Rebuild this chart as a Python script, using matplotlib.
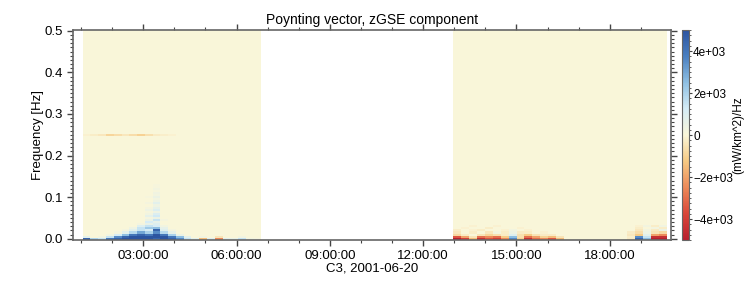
import numpy as np
import matplotlib
matplotlib.use("Agg")
import matplotlib.pyplot as plt
from matplotlib.colors import LinearSegmentedColormap, Normalize
from matplotlib.ticker import MultipleLocator, FuncFormatter

plt.rcParams["font.family"] = ["Liberation Sans", "DejaVu Sans"]

# time segments with data (hours of 2001-06-20)
seg1_start, seg1_end, seg1_nbins = 1.05, 6.80, 23
seg2_start, seg2_end, seg2_nbins = 12.97, 19.83, 27
freq_step = 0.005
n_freq = 101

# Poynting flux (mW/km^2)/Hz, segment 1, lowest rows (0, 0.005, 0.01, 0.015, 0.02 Hz)
seg1_row0 = [4500, 2000, 1500, 4000, 4500, 5000, 5000, 5000, 5000, 4500, 5000, 4500,
             3500, 1500, 800, -1500, 1000, -2500, 800, 600, 1500, 300, 200]
seg1_row1 = [800, 0, 300, 1500, 3500, 4500, 5000, 5000, 5000, 5000, 5000, 4000,
             2500, 800, 0, 300, 0, -500, 0, 0, 300, 0, 0]
seg1_row2 = [0, 0, 0, 300, 1200, 2500, 4000, 4500, 4000, 5000, 4000, 2000,
             500, 0, 0, 0, 0, 0, 0, 0, 0, 0, 0]
seg1_row3 = [0, 0, 0, 0, 200, 800, 1800, 3000, 2000, 3500, 1800, 600,
             0, 0, 0, 0, 0, 0, 0, 0, 0, 0, 0]
seg1_row4 = [0, 0, 0, 0, 0, 200, 800, 1500, 1200, 4500, 900, 200,
             0, 0, 0, 0, 0, 0, 0, 0, 0, 0, 0]
# burst from 0.025 Hz upward, bins 02:33 .. 03:48
burst_rows = [
    [400, 1500, 2200, 2500, 700],
    [0, 900, 1500, 1200, 300],
    [0, 200, 600, 1000, 0],
    [0, 0, 1200, 700, 0],
    [0, 0, 500, 1500, 200],
    [0, 0, 200, 500, 0],
    [0, 0, 700, 1300, 0],
    [0, 0, 300, 1000, 0],
    [0, 0, 150, 400, 0],
    [0, 0, 400, 1000, 0],
    [0, 0, 200, 700, 0],
    [0, 0, 0, 400, 0],
    [0, 0, 200, 800, 0],
    [0, 0, 0, 400, 0],
    [0, 0, 0, 250, 0],
    [0, 0, 150, 500, 0],
    [0, 0, 0, 250, 0],
    [0, 0, 0, 350, 0],
    [0, 0, 0, 150, 0],
    [0, 0, 0, 250, 0],
    [0, 0, 0, 120, 0],
    [0, 0, 0, 150, 0],
]
# faint line at 0.25 Hz, segment 1
seg1_line25 = [-150, -250, -400, -900, -700, -400, -700, -1000, -600, -300, -200, -150,
               0, 0, 0, 0, 0, 0, 0, 0, 0, 0, 0]

# segment 2, rows 0 .. 0.03 Hz
seg2_row0 = [-5000, -4000, -1500, -4500, -3500, -4000, -2500, 3500, -1000, -4500, -3000, -2500,
             -3500, -1500, 0, 0, 0, 0, 0, 0, 0, 0, -300, 4500, 2500, -5000, -5000]
seg2_row1 = [-3500, -2000, -500, -3000, -2500, -3000, -1200, 2500, -600, -3000, -2000, -1000,
             -1500, -500, 0, 0, 0, 0, 0, 0, 0, 0, -200, 3500, 1500, -4500, -4500]
seg2_row2 = [-800, -300, 0, -500, -900, -600, -300, 900, -600, -1200, -500, -300,
             -300, 0, 0, 0, 0, 0, 0, 0, 0, 0, -400, -1200, 800, -2000, -2500]
seg2_row3 = [-400, 0, -250, 0, -400, 250, -250, 400, -300, -250, 0, -150,
             0, 0, 0, 0, 0, 0, 0, 0, 0, 0, -300, -700, 400, -500, -800]
seg2_row4 = [-250, 0, -150, -250, 0, 0, -150, 250, 0, -150, 0, 0,
             0, 0, 0, 0, 0, 0, 0, 0, 0, 0, 0, -400, 250, -350, 500]
seg2_row5 = [0, -150, 0, 0, -250, 0, 0, 0, -150, 0, 0, 0,
             0, 0, 0, 0, 0, 0, 0, 0, 0, 0, 0, -250, 0, 250, -250]
seg2_row6 = [0, 0, -120, 0, 0, -150, 0, 0, 0, 0, 0, 0,
             0, 0, 0, 0, 0, 0, 0, 0, 0, 0, 0, -150, 250, -250, 300]

# colormap
cmap_colors = ["#b8202f", "#d9473a", "#ec8a5a", "#f6c983", "#faf6d9",
               "#d5ecf6", "#8fc0e3", "#4a7fc0", "#2c54a0"]
cmap = LinearSegmentedColormap.from_list("poynting", cmap_colors)
norm = Normalize(vmin=-5000, vmax=5000)

freq_edges = np.arange(n_freq + 1) * freq_step - freq_step / 2

# build grids
Z1 = np.zeros((n_freq, seg1_nbins))
for i, row in enumerate([seg1_row0, seg1_row1, seg1_row2, seg1_row3, seg1_row4]):
    Z1[i] = row
Z1[5:5 + len(burst_rows), 6:11] = burst_rows
Z1[50] = seg1_line25

Z2 = np.zeros((n_freq, seg2_nbins))
for i, row in enumerate([seg2_row0, seg2_row1, seg2_row2, seg2_row3,
                         seg2_row4, seg2_row5, seg2_row6]):
    Z2[i] = row

t1 = np.linspace(seg1_start, seg1_end, seg1_nbins + 1)
t2 = np.linspace(seg2_start, seg2_end, seg2_nbins + 1)

fig = plt.figure(figsize=(7.5, 3), dpi=100)
ax = fig.add_axes([73 / 750, 60 / 300, 598 / 750, 210 / 300])
cax = fig.add_axes([682 / 750, 60 / 300, 7 / 750, 210 / 300])

mesh = ax.pcolormesh(t1, freq_edges, Z1, cmap=cmap, norm=norm, shading="flat")
ax.pcolormesh(t2, freq_edges, Z2, cmap=cmap, norm=norm, shading="flat")

ax.set_xlim(0.74, 19.97)
ax.set_ylim(-0.003, 0.502)

ax.xaxis.set_major_locator(MultipleLocator(3))
ax.xaxis.set_minor_locator(MultipleLocator(1))
ax.xaxis.set_major_formatter(FuncFormatter(lambda h, p: f"{int(round(h)):02d}:00:00"))
ax.yaxis.set_major_locator(MultipleLocator(0.1))
ax.yaxis.set_minor_locator(MultipleLocator(0.01))
ax.yaxis.set_major_formatter(FuncFormatter(lambda v, p: f"{abs(v):.1f}"))

ax.tick_params(which="both", direction="out", top=True, right=True,
               labelsize=9.5, color="#444444")
ax.tick_params(which="major", length=4, width=1)
ax.tick_params(which="minor", length=2.5, width=0.8)
for s in ax.spines.values():
    s.set_color("#666666")
    s.set_linewidth(1.2)

ax.set_title("Poynting vector, zGSE component", fontsize=10, pad=4)
ax.set_xlabel("C3, 2001-06-20", fontsize=9.5, labelpad=0)
ax.set_ylabel("Frequency [Hz]", fontsize=9.5, labelpad=0)

cb = fig.colorbar(mesh, cax=cax)
cb.set_ticks([-4000, -2000, 0, 2000, 4000])
cb.set_ticklabels(["\u22124e+03", "\u22122e+03", "0", "2e+03", "4e+03"])
cb.ax.yaxis.set_minor_locator(MultipleLocator(250))
cb.ax.tick_params(which="both", labelsize=8.5, color="#444444", pad=1)
cb.ax.tick_params(which="major", length=2)
cb.ax.tick_params(which="minor", length=1.2)
cb.outline.set_edgecolor("#666666")
fig.text(738 / 750, 1 - 135 / 300, "(mW/km^2)/Hz", rotation=90,
         ha="center", va="center", fontsize=8.5)

fig.savefig("out.png", dpi=100)
